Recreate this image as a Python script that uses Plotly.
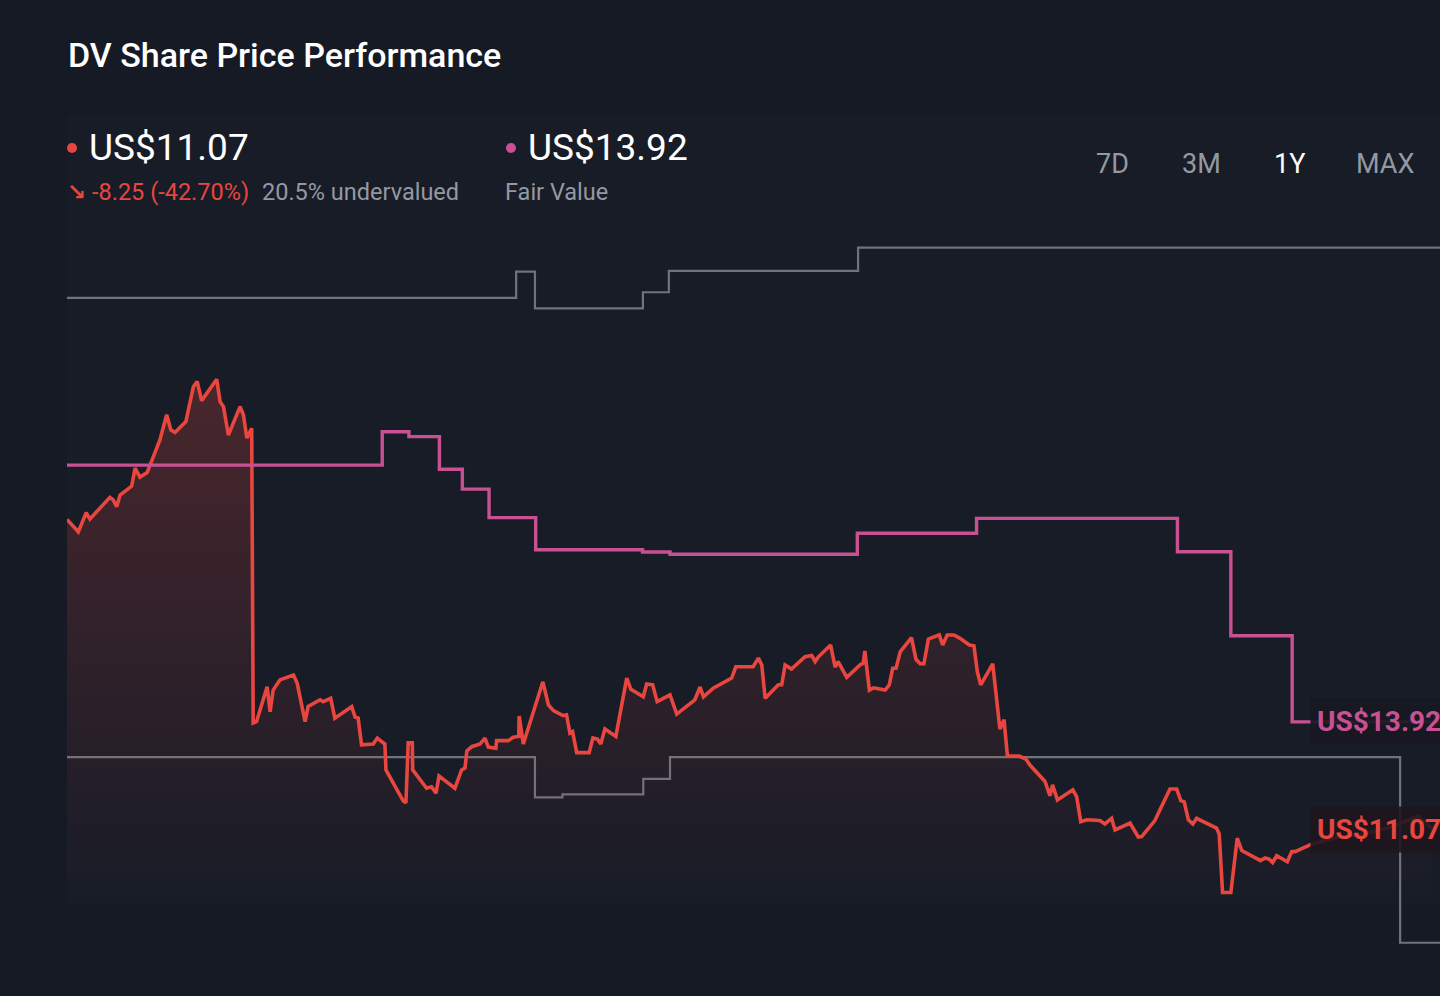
import pandas as pd
import plotly.graph_objects as go

# %% data
start = pd.Timestamp("2024-12-20")

price_days = [0, 3.0, 5.1, 6.1, 11.4, 12.3, 13.2, 14.1, 17.2, 18.1, 19.4, 21.3, 24.7, 26.5, 27.6, 28.7,
              31.6, 33.6, 34.6, 35.8, 39.8, 40.7, 41.6, 42.9, 46.0, 46.9, 47.8, 49.1, 49.5, 50.4,
              53.2, 54.0, 54.8, 56.6, 60.2, 61.2, 63.3, 64.1, 67.3, 68.1, 70.1, 71.2, 75.7, 76.6,
              77.4, 78.3, 81.4, 82.5, 83.7, 84.5, 84.8, 89.4, 90.1, 90.7, 91.8, 91.9, 95.6, 96.9,
              98.1, 98.9, 103.1, 104.9, 105.8, 106.3, 107.6, 109.8, 111.1, 112.0, 114.0, 114.2,
              117.3, 118.6, 120.1, 120.2, 121.3, 126.5, 128.0, 129.3, 131.9, 132.8, 133.7, 134.4,
              135.5, 138.8, 139.8, 141.0, 141.9, 143.0, 145.9, 148.8, 149.9, 153.2, 154.1, 155.7,
              156.9, 160.3, 162.1, 166.9, 168.3, 169.2, 171.8, 174.9, 176.7, 177.8, 182.4, 183.8,
              184.7, 185.6, 189.1, 190.0, 190.9, 192.6, 196.2, 198.0, 198.9, 199.7, 203.0, 204.2,
              205.0, 207.3, 210.8, 211.7, 212.1, 213.3, 214.4, 217.5, 218.6, 219.5, 220.4, 221.5,
              224.5, 225.7, 226.8, 227.8, 229.0, 231.9, 232.8, 234.0, 235.8, 237.4, 239.9, 241.1,
              242.0, 242.9, 246.1, 248.0, 249.1, 250.0, 253.1, 254.9, 256.0, 260.0, 261.3, 262.0,
              263.3, 267.4, 268.4, 269.5, 271.1, 274.6, 275.9, 277.7, 278.6, 282.6, 284.8, 285.7,
              289.2, 293.2, 295.0, 296.1, 297.0, 298.1, 299.3, 300.3, 304.6, 305.6, 306.3, 307.2,
              309.4, 311.1, 312.3, 317.3, 318.5, 319.6, 320.5, 321.6, 324.4, 325.6, 326.5, 330.4,
              337.1, 345.1, 353.0, 359.2, 362.9]
price = [19.32, 18.99, 19.50, 19.33, 19.91, 19.84, 19.66, 19.97, 20.21, 20.69, 20.45, 20.57, 21.44, 22.11,
         21.71, 21.64, 21.93, 22.86, 23.00, 22.49, 23.06, 22.46, 22.33, 21.57, 22.33, 22.11, 21.49, 21.75,
         13.89, 13.93, 14.86, 14.19, 14.77, 15.04, 15.17, 14.95, 13.93, 14.33, 14.51, 14.46, 14.55, 14.02,
         14.33, 14.05, 14.02, 13.31, 13.33, 13.49, 13.39, 13.33, 12.64, 11.81, 11.76, 13.36, 13.36, 12.64,
         12.15, 12.19, 12.02, 12.48, 12.15, 12.64, 12.69, 13.15, 13.26, 13.33, 13.49, 13.25, 13.22, 13.42,
         13.42, 13.51, 13.53, 14.08, 13.33, 14.99, 14.37, 14.22, 14.09, 14.11, 13.62, 13.66, 13.10, 13.10,
         13.49, 13.46, 13.33, 13.73, 13.53, 15.09, 14.79, 14.59, 14.93, 14.91, 14.46, 14.64, 14.13, 14.51,
         14.85, 14.59, 14.82, 14.98, 15.09, 15.39, 15.39, 15.62, 15.44, 14.55, 14.91, 14.91, 15.44, 15.33,
         15.66, 15.69, 15.53, 15.65, 15.97, 15.38, 15.53, 15.11, 15.44, 15.49, 15.81, 14.77, 14.83, 14.77,
         14.91, 15.35, 15.35, 15.79, 16.17, 15.59, 15.47, 15.47, 16.13, 16.24, 15.97, 16.24, 16.24, 16.15,
         15.97, 15.95, 15.26, 14.91, 15.47, 13.73, 13.98, 13.01, 13.01, 12.93, 12.77, 12.33, 11.95, 12.24,
         11.84, 12.11, 11.93, 11.26, 11.31, 11.29, 11.20, 11.35, 11.04, 11.22, 10.85, 10.86, 11.29, 12.13,
         12.13, 11.82, 11.79, 11.31, 11.20, 11.35, 11.13, 11.09, 10.93, 9.37, 9.37, 10.82, 10.49, 10.22,
         10.29, 10.26, 10.17, 10.35, 10.19, 10.46, 10.46, 10.64, 10.83, 10.93, 11.15, 11.41, 11.07]

fv_days = [0, 83.8, 90.9, 99.0, 105.1, 112.2, 124.6, 153.0, 160.3, 210.1, 241.8, 295.2, 309.4, 325.7, 365]
fair_value = [20.77, 21.66, 21.53, 20.66, 20.13, 19.37, 18.51, 18.45, 18.39, 18.95, 19.35, 18.46, 16.22,
              13.92, 13.92]

upper_days = [0, 119.4, 124.4, 153.1, 160.0, 210.3, 365]
upper_band = [25.23, 25.93, 24.95, 25.38, 25.95, 26.57, 26.57]

lower_days = [0, 124.4, 131.7, 153.2, 160.3, 354.4, 365]
lower_band = [12.98, 11.91, 11.99, 12.40, 12.98, 8.03, 8.03]

last_price = "US$11.07"
change_text = "-8.25 (-42.70%)"
valuation_text = "20.5% undervalued"
fair_value_text = "US$13.92"
ranges = ["7D", "3M", "1Y", "MAX"]
active_range = "1Y"

# %% colours / helpers
BG = "#151a25"
RED = "#e8463e"
PINK = "#c95193"
GRAY = "#6e737c"
TXT_GRAY = "#9499a1"

W, H = 1440, 996
L, R, T, B = 67, 0, 230, 36


def to_dates(days):
    return start + pd.to_timedelta(days, unit="D")


def px(x):
    return (x - L) / (W - L - R)


def py(y):
    return (H - B - y) / (H - T - B)


# %% figure
fig = go.Figure()

fig.add_trace(go.Scatter(x=to_dates(upper_days), y=upper_band, mode="lines", line_shape="hv",
                         line=dict(color=GRAY, width=2.2), hoverinfo="skip"))
fig.add_trace(go.Scatter(x=to_dates(lower_days), y=lower_band, mode="lines", line_shape="hv",
                         line=dict(color=GRAY, width=2.2), hoverinfo="skip"))
fig.add_trace(go.Scatter(x=to_dates(price_days), y=price, mode="lines", name="Price",
                         line=dict(color=RED, width=3.6), fill="tozeroy",
                         fillgradient=dict(type="vertical", start=8.9, stop=23.0,
                                           colorscale=[[0, "rgba(232,70,62,0)"],
                                                       [1, "rgba(232,70,62,0.24)"]])))
fig.add_trace(go.Scatter(x=to_dates(fv_days), y=fair_value, mode="lines", line_shape="hv",
                         name="Fair Value", line=dict(color=PINK, width=3.4)))

ann = []
# header
ann.append(dict(x=px(66), y=py(55), text="DV Share Price Performance", showarrow=False,
                xanchor="left", yanchor="middle",
                font=dict(family="Roboto", size=34, color="#ffffff", weight=500)))
ann.append(dict(x=px(87), y=py(147), text=last_price, showarrow=False, xanchor="left", yanchor="middle",
                font=dict(family="Roboto", size=37, color="#ffffff")))
ann.append(dict(x=px(526), y=py(147), text=fair_value_text, showarrow=False, xanchor="left",
                yanchor="middle", font=dict(family="Roboto", size=37, color="#ffffff")))
ann.append(dict(x=px(65), y=py(192), text="<b>↘</b>", showarrow=False, xanchor="left", yanchor="middle",
                font=dict(family="DejaVu Sans", size=23, color=RED)))
ann.append(dict(x=px(90), y=py(192), text=change_text, showarrow=False, xanchor="left", yanchor="middle",
                font=dict(family="Roboto", size=23.5, color=RED)))
ann.append(dict(x=px(260), y=py(192), text=valuation_text, showarrow=False, xanchor="left",
                yanchor="middle", font=dict(family="Roboto", size=23.5, color=TXT_GRAY)))
ann.append(dict(x=px(503), y=py(192), text="Fair Value", showarrow=False, xanchor="left",
                yanchor="middle", font=dict(family="Roboto", size=23.5, color=TXT_GRAY)))

# range selector
for lbl, cx in zip(ranges, [1112, 1201, 1289, 1385]):
    ann.append(dict(x=px(cx), y=py(164), text=lbl, showarrow=False, xanchor="center", yanchor="middle",
                    font=dict(family="Roboto", size=27,
                              color="#ffffff" if lbl == active_range else TXT_GRAY)))

# end labels
ann.append(dict(x=to_dates([330.4])[0], y=fair_value[-1], xref="x", yref="y", text="<b>" + fair_value_text + "</b>",
                showarrow=False, xanchor="left", yanchor="middle", bgcolor="rgba(24,24,34,0.92)",
                borderpad=6, font=dict(family="Roboto", size=28, color=PINK)))
ann.append(dict(x=to_dates([330.4])[0], y=11.04, xref="x", yref="y", text="<b>" + last_price + "</b>",
                showarrow=False, xanchor="left", yanchor="middle", bgcolor="rgba(30,22,30,0.9)",
                borderpad=6, font=dict(family="Roboto", size=28, color=RED)))

for a in ann:
    a.setdefault("xref", "paper")
    a.setdefault("yref", "paper")

shapes = [
    dict(type="rect", xref="paper", yref="paper", x0=0, x1=1, y0=py(905), y1=py(115),
         fillcolor="rgba(255,255,255,0.012)", line=dict(width=0), layer="below"),
    dict(type="circle", xref="paper", yref="paper", xsizemode="pixel", ysizemode="pixel",
         xanchor=px(72), yanchor=py(148), x0=-5, x1=5, y0=-5, y1=5, fillcolor=RED, line=dict(width=0)),
    dict(type="circle", xref="paper", yref="paper", xsizemode="pixel", ysizemode="pixel",
         xanchor=px(511), yanchor=py(148), x0=-5, x1=5, y0=-5, y1=5, fillcolor=PINK, line=dict(width=0)),
]

fig.update_layout(
    width=W, height=H,
    margin=dict(l=L, r=R, t=T, b=B),
    paper_bgcolor=BG, plot_bgcolor=BG,
    showlegend=False,
    annotations=ann,
    shapes=shapes,
    xaxis=dict(range=[start, start + pd.Timedelta(days=365)], visible=False, showgrid=False, zeroline=False),
    yaxis=dict(range=[7.57, 27.04], visible=False, showgrid=False, zeroline=False),
    hovermode="x",
)

# page has a default 8px body margin; drop it so the figure fills the window
fig.write_html("out.html", config={"displayModeBar": False},
               post_script="document.body.style.margin='0';"
                           "document.body.style.background='" + BG + "';")
